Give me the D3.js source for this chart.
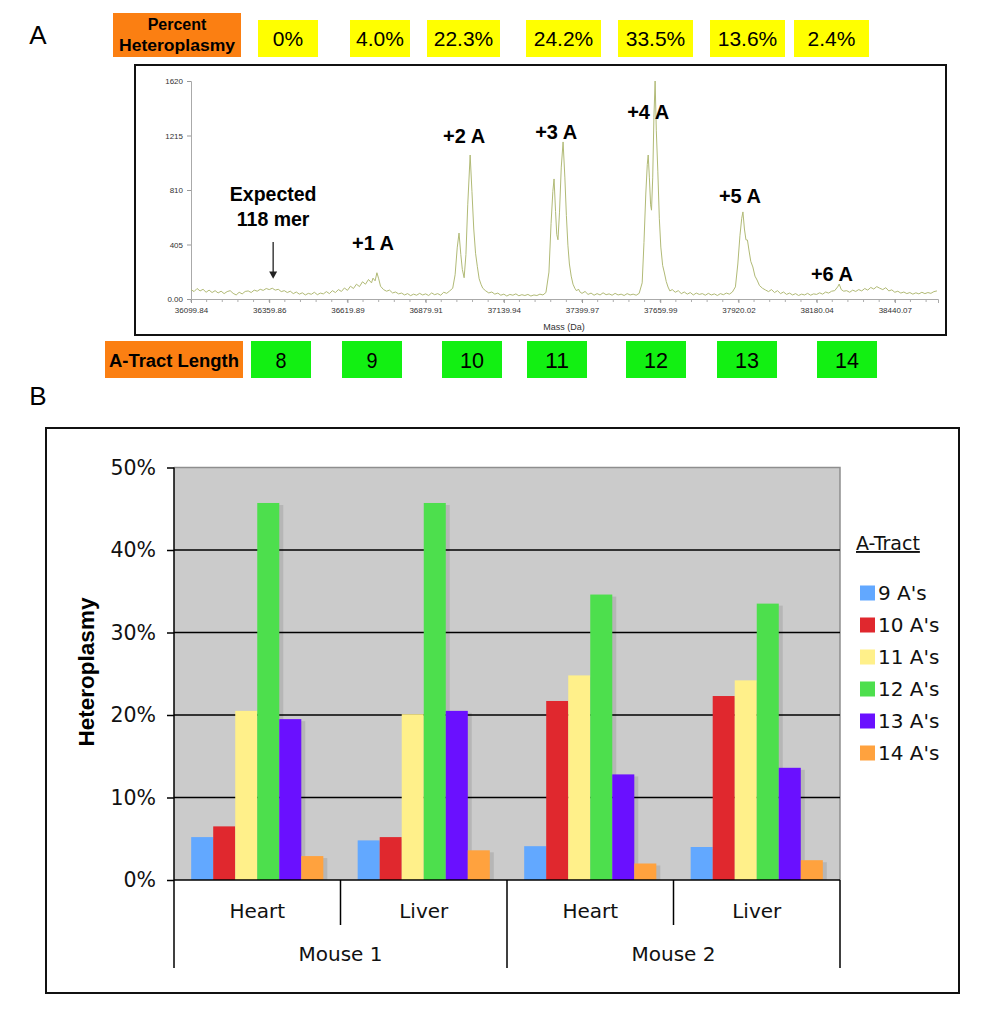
<!DOCTYPE html>
<html><head><meta charset="utf-8">
<script src="https://cdn.jsdelivr.net/npm/d3@7"></script>
<style>body{margin:0;background:#fff}</style>
</head><body><svg id="c" width="1000" height="1022"></svg>
<script>
// ---------- DATA ----------
const heteroplasmyLabels = ["0%", "4.0%", "22.3%", "24.2%", "33.5%", "13.6%", "2.4%"];
const tractLengths = [8, 9, 10, 11, 12, 13, 14];

const massTicks = [36099.84, 36359.86, 36619.89, 36879.91, 37139.94, 37399.97, 37659.99, 37920.02, 38180.04, 38440.07];
const intensityTicks = [0, 405, 810, 1215, 1620];

// [mass (Da), intensity]
const spectrum = [
[36100,70],[36110,55],[36120,78],[36130,60],[36140,72],[36150,50],[36160,66],[36170,48],[36180,62],[36190,45],
[36200,58],[36210,40],[36220,55],[36230,62],[36240,42],[36250,30],[36260,50],[36270,38],[36280,56],[36290,60],
[36300,48],[36310,66],[36320,58],[36330,72],[36340,64],[36350,78],[36360,70],[36370,80],[36380,66],[36390,72],
[36400,55],[36410,62],[36420,48],[36430,58],[36440,40],[36450,52],[36460,36],[36470,46],[36480,30],[36490,42],
[36500,35],[36510,50],[36520,32],[36530,44],[36540,38],[36550,55],[36560,40],[36570,62],[36580,48],[36590,70],
[36600,56],[36610,82],[36620,64],[36630,95],[36640,78],[36650,110],[36660,92],[36670,128],[36680,110],[36690,145],
[36700,120],[36705,155],[36712,135],[36718,195],[36724,150],[36730,95],[36740,70],[36750,58],[36760,66],[36770,45],
[36780,52],[36790,38],[36800,44],[36810,30],[36820,40],[36830,25],[36840,36],[36850,28],[36860,42],[36870,30],
[36880,38],[36890,26],[36900,45],[36910,32],[36920,40],[36930,28],[36940,50],[36950,42],[36960,60],[36970,80],
[36978,180],[36985,380],[36991,490],[36997,330],[37002,220],[37008,158],[37014,330],[37020,700],[37028,1070],[37034,800],
[37040,520],[37046,340],[37052,240],[37058,150],[37064,110],[37070,80],[37080,60],[37090,45],[37100,52],[37110,36],
[37120,44],[37130,28],[37140,36],[37150,22],[37160,34],[37170,28],[37180,38],[37190,24],[37200,32],[37210,26],
[37220,34],[37230,22],[37240,30],[37250,26],[37260,36],[37270,30],[37280,48],[37290,200],[37297,560],[37303,800],
[37307,892],[37312,650],[37316,480],[37320,440],[37325,640],[37331,980],[37337,1167],[37343,900],[37348,620],[37353,400],
[37358,260],[37364,170],[37370,110],[37376,80],[37382,60],[37388,74],[37394,50],[37400,42],[37410,56],[37420,34],
[37430,44],[37440,28],[37450,40],[37460,30],[37470,46],[37480,32],[37490,38],[37500,28],[37510,42],[37520,30],
[37530,36],[37540,26],[37550,40],[37560,30],[37570,36],[37580,28],[37590,42],[37600,120],[37606,420],[37612,780],
[37617,1000],[37620,1070],[37624,900],[37628,700],[37631,660],[37635,900],[37639,1350],[37643,1620],[37647,1250],[37652,950],
[37657,600],[37662,386],[37668,250],[37674,193],[37680,130],[37686,89],[37692,60],[37700,70],[37710,50],[37720,62],
[37730,40],[37740,52],[37750,36],[37760,48],[37770,30],[37780,44],[37790,34],[37800,40],[37810,28],[37820,42],
[37830,30],[37840,38],[37850,26],[37860,40],[37870,32],[37880,44],[37890,36],[37900,52],[37910,90],[37918,260],
[37925,470],[37931,600],[37935,647],[37940,520],[37945,440],[37950,438],[37955,364],[37961,280],[37968,238],[37975,170],
[37982,141],[37990,100],[38000,80],[38010,67],[38020,55],[38030,70],[38040,48],[38050,62],[38060,40],[38070,52],
[38080,34],[38090,44],[38100,30],[38110,40],[38120,26],[38130,36],[38140,30],[38150,42],[38160,28],[38170,38],
[38180,34],[38190,46],[38200,36],[38210,52],[38220,44],[38230,58],[38240,62],[38250,90],[38255,111],[38262,70],
[38270,58],[38280,62],[38290,50],[38300,66],[38310,56],[38320,70],[38330,60],[38340,78],[38350,66],[38360,86],
[38370,74],[38380,92],[38390,80],[38400,70],[38410,84],[38420,60],[38430,68],[38440,50],[38450,58],[38460,44],
[38470,52],[38480,40],[38490,48],[38500,36],[38510,46],[38520,38],[38530,50],[38540,40],[38550,48],[38560,42],
[38570,55],[38580,60]
];

// peak annotations: text, mass, intensity (baseline of text)
const peakLabels = [
  ["+1 A", 36705, 364], ["+2 A", 37008, 1159], ["+3 A", 37314, 1189],
  ["+4 A", 37620, 1338], ["+5 A", 37925, 713], ["+6 A", 38231, 134]
];
const expectedLabel = ["Expected", "118 mer"];
const expectedMass = 36373;

// Panel B
const tissues = ["Heart", "Liver", "Heart", "Liver"];
const mice = ["Mouse 1", "Mouse 2"];
const seriesNames = ["9 A's", "10 A's", "11 A's", "12 A's", "13 A's", "14 A's"];
const seriesColors = ["#62a8ff", "#e0282e", "#fff08a", "#4ddf4d", "#6a10ff", "#ffa23e"];
const a9  = [5.2, 4.8, 4.1, 4.0];
const a10 = [6.5, 5.2, 21.7, 22.3];
const a11 = [20.5, 20.1, 24.8, 24.2];
const a12 = [45.7, 45.7, 34.6, 33.5];
const a13 = [19.5, 20.5, 12.8, 13.6];
const a14 = [2.9, 3.6, 2.0, 2.4];
const yTicksB = [0, 10, 20, 30, 40, 50];

// ---------- DRAW ----------
const svg = d3.select("#c");
const ARIAL = "'Liberation Sans', Arial, sans-serif";
const VERD = "'DejaVu Sans', Verdana, sans-serif";

// Panel letters
svg.append("text").attr("x", 38).attr("y", 44).attr("text-anchor", "middle")
  .attr("font-family", ARIAL).attr("font-size", 26).text("A");
svg.append("text").attr("x", 38).attr("y", 405).attr("text-anchor", "middle")
  .attr("font-family", ARIAL).attr("font-size", 26).text("B");

// Header boxes
const orange = "#fb7f12";
const hdr = svg.append("g");
hdr.append("rect").attr("x", 113).attr("y", 13).attr("width", 128).attr("height", 44).attr("fill", orange);
hdr.append("text").attr("x", 177).attr("y", 30).attr("text-anchor", "middle").attr("font-family", ARIAL)
  .attr("font-weight", "bold").attr("font-size", 16).text("Percent");
hdr.append("text").attr("x", 177).attr("y", 51).attr("text-anchor", "middle").attr("font-family", ARIAL)
  .attr("font-weight", "bold").attr("font-size", 16).attr("textLength", 116).attr("lengthAdjust", "spacingAndGlyphs").text("Heteroplasmy");

const pctBoxX = [258, 350, 427, 526, 618, 710, 794];
const pctBoxW = [60, 60, 73, 75, 75, 75, 75];
heteroplasmyLabels.forEach((t, i) => {
  hdr.append("rect").attr("x", pctBoxX[i]).attr("y", 20).attr("width", pctBoxW[i]).attr("height", 37).attr("fill", "#ffff00");
  hdr.append("text").attr("x", pctBoxX[i] + pctBoxW[i] / 2).attr("y", 46).attr("text-anchor", "middle")
    .attr("font-family", ARIAL).attr("font-size", 21).text(t);
});

// Tract length boxes
const tr = svg.append("g");
tr.append("rect").attr("x", 105).attr("y", 341).attr("width", 138).attr("height", 37).attr("fill", orange);
tr.append("text").attr("x", 174).attr("y", 367).attr("text-anchor", "middle").attr("font-family", ARIAL)
  .attr("font-weight", "bold").attr("font-size", 18).attr("textLength", 130).attr("lengthAdjust", "spacingAndGlyphs").text("A-Tract Length");
const trBoxX = [251, 342, 442, 527, 626, 717, 817];
tractLengths.forEach((t, i) => {
  tr.append("rect").attr("x", trBoxX[i]).attr("y", 341).attr("width", 60).attr("height", 37).attr("fill", "#12f012");
  const tw = String(t).length === 1 ? 11 : 24;
  tr.append("text").attr("x", trBoxX[i] + 30).attr("y", 368).attr("text-anchor", "middle")
    .attr("font-family", ARIAL).attr("font-size", 22).attr("textLength", tw).attr("lengthAdjust", "spacingAndGlyphs").text(t);
});

// Spectrum panel
svg.append("rect").attr("x", 135).attr("y", 65).attr("width", 811).attr("height", 270)
  .attr("fill", "#fff").attr("stroke", "#111").attr("stroke-width", 2);

const xS = d3.scaleLinear().domain([36099.84, 38583.6]).range([191, 938]);
const yS = d3.scaleLinear().domain([0, 1620]).range([299, 81]);

const sp = svg.append("g");
// minor ticks
const minor = d3.range(0, 48).map(i => 36099.84 + i * 52.004).filter(m => m <= 38583.6);
sp.selectAll(".mn").data(minor).join("line")
  .attr("x1", d => xS(d)).attr("x2", d => xS(d)).attr("y1", 299).attr("y2", 302)
  .attr("stroke", "#999").attr("stroke-width", 0.8);

const axX = sp.append("g").attr("transform", "translate(0,299)")
  .call(d3.axisBottom(xS).tickValues(massTicks).tickFormat(d3.format(".2f")).tickSize(4).tickPadding(4));
const axY = sp.append("g").attr("transform", "translate(191,0)")
  .call(d3.axisLeft(yS).tickValues(intensityTicks).tickFormat(d => d === 0 ? "0.00" : d).tickSize(4).tickPadding(4));
[axX, axY].forEach(a => {
  a.select(".domain").attr("stroke", "#aaa");
  a.selectAll(".tick line").attr("stroke", "#999");
  a.selectAll("text").attr("font-family", ARIAL).attr("font-size", 8).attr("fill", "#333");
});
sp.append("text").attr("x", 564).attr("y", 330).attr("text-anchor", "middle").attr("font-family", ARIAL)
  .attr("font-size", 9).attr("fill", "#333").text("Mass (Da)");

sp.append("path").datum(spectrum)
  .attr("d", d3.line().x(d => xS(d[0])).y(d => yS(d[1])))
  .attr("fill", "none").attr("stroke", "#b1ba76").attr("stroke-width", 1);

peakLabels.forEach(p => {
  sp.append("text").attr("x", xS(p[1])).attr("y", yS(p[2])).attr("text-anchor", "middle")
    .attr("font-family", ARIAL).attr("font-weight", "bold").attr("font-size", 20).text(p[0]);
});
sp.append("text").attr("x", xS(expectedMass)).attr("y", yS(728)).attr("text-anchor", "middle")
  .attr("font-family", ARIAL).attr("font-weight", "bold").attr("font-size", 19.5).text(expectedLabel[0]);
sp.append("text").attr("x", xS(expectedMass)).attr("y", yS(542)).attr("text-anchor", "middle")
  .attr("font-family", ARIAL).attr("font-weight", "bold").attr("font-size", 19.5).text(expectedLabel[1]);
const ax = xS(expectedMass);
sp.append("line").attr("x1", ax).attr("x2", ax).attr("y1", yS(424)).attr("y2", yS(200))
  .attr("stroke", "#222").attr("stroke-width", 1.3);
sp.append("path").attr("d", `M${ax - 4},${yS(205)} L${ax + 4},${yS(205)} L${ax},${yS(150)} Z`).attr("fill", "#222");

// ---------- Panel B ----------
svg.append("rect").attr("x", 46).attr("y", 428).attr("width", 913).attr("height", 565)
  .attr("fill", "#fff").attr("stroke", "#111").attr("stroke-width", 2);

const L = 174, R = 840, T = 467.5, B = 880;
const x0 = d3.scaleBand().domain(d3.range(tissues.length)).range([L, R]).paddingInner(0).paddingOuter(0);
const x1 = d3.scaleBand().domain(seriesNames).range([0, x0.bandwidth()]).paddingInner(0).paddingOuter(0.78);
const yB = d3.scaleLinear().domain([0, 50]).range([B, T]);

const pb = svg.append("g");
pb.append("rect").attr("x", L).attr("y", T).attr("width", R - L).attr("height", B - T)
  .attr("fill", "#cbcbcb");
pb.append("path").attr("d", `M${L},${T} H${R} V${B}`).attr("fill", "none").attr("stroke", "#8e8e8e").attr("stroke-width", 1.5);

// grid
pb.selectAll(".gr").data(yTicksB.filter(d => d > 0 && d < 50)).join("line")
  .attr("x1", L).attr("x2", R).attr("y1", d => yB(d)).attr("y2", d => yB(d))
  .attr("stroke", "#000").attr("stroke-width", 1.5);

const allSeries = [a9, a10, a11, a12, a13, a14];
const barData = [];
allSeries.forEach((vals, s) => vals.forEach((v, g) => barData.push({ g, s, v })));

// shadows
pb.append("g").selectAll("rect").data(barData).join("rect")
  .attr("x", d => x0(d.g) + x1(seriesNames[d.s]) + 4).attr("y", d => yB(d.v) + 2)
  .attr("width", x1.bandwidth()).attr("height", d => B - yB(d.v) - 2)
  .attr("fill", "#000").attr("opacity", 0.1);
// bars
pb.append("g").selectAll("rect").data(barData).join("rect")
  .attr("x", d => x0(d.g) + x1(seriesNames[d.s])).attr("y", d => yB(d.v))
  .attr("width", x1.bandwidth()).attr("height", d => B - yB(d.v))
  .attr("fill", d => seriesColors[d.s]);

// y axis
const yAx = pb.append("g").attr("transform", `translate(${L},0)`)
  .call(d3.axisLeft(yB).tickValues(yTicksB).tickFormat(d => d + "%").tickSize(7).tickPadding(11));
yAx.select(".domain").remove();
yAx.selectAll(".tick line").attr("stroke", "#000").attr("stroke-width", 1.5);
yAx.selectAll("text").attr("font-family", VERD).attr("font-size", 20.5).attr("fill", "#111");

// x axis line and group lines
pb.append("line").attr("x1", L).attr("x2", L).attr("y1", T).attr("y2", 968).attr("stroke", "#000").attr("stroke-width", 1.5);
pb.append("line").attr("x1", L).attr("x2", R).attr("y1", B).attr("y2", B).attr("stroke", "#000").attr("stroke-width", 1.5);
d3.range(1, tissues.length + 1).forEach(i => {
  const xx = L + i * x0.bandwidth();
  const outer = (i % 2 === 0);
  pb.append("line").attr("x1", xx).attr("x2", xx).attr("y1", B).attr("y2", outer ? 968 : 925)
    .attr("stroke", "#000").attr("stroke-width", 1.5);
});
tissues.forEach((t, i) => {
  pb.append("text").attr("x", x0(i) + x0.bandwidth() / 2).attr("y", 918).attr("text-anchor", "middle")
    .attr("font-family", VERD).attr("font-size", 20).attr("fill", "#111").text(t);
});
mice.forEach((m, i) => {
  pb.append("text").attr("x", L + (i + 0.5) * 2 * x0.bandwidth()).attr("y", 961).attr("text-anchor", "middle")
    .attr("font-family", VERD).attr("font-size", 20).attr("fill", "#111").text(m);
});

// y title
pb.append("text").attr("transform", "translate(94,672) rotate(-90)").attr("text-anchor", "middle")
  .attr("font-family", ARIAL).attr("font-weight", "bold").attr("font-size", 22.5).text("Heteroplasmy");

// legend
const lg = pb.append("g");
lg.append("text").attr("x", 856).attr("y", 550).attr("font-family", VERD).attr("font-size", 19)
  .attr("fill", "#111").attr("text-decoration", "underline").text("A-Tract");
seriesNames.forEach((n, i) => {
  const cy = 593 + i * 32;
  lg.append("rect").attr("x", 860).attr("y", cy - 7.5).attr("width", 15).attr("height", 15).attr("fill", seriesColors[i]);
  lg.append("text").attr("x", 878).attr("y", cy + 7).attr("font-family", VERD).attr("font-size", 20)
    .attr("fill", "#111").text(n);
});
</script></body></html>
